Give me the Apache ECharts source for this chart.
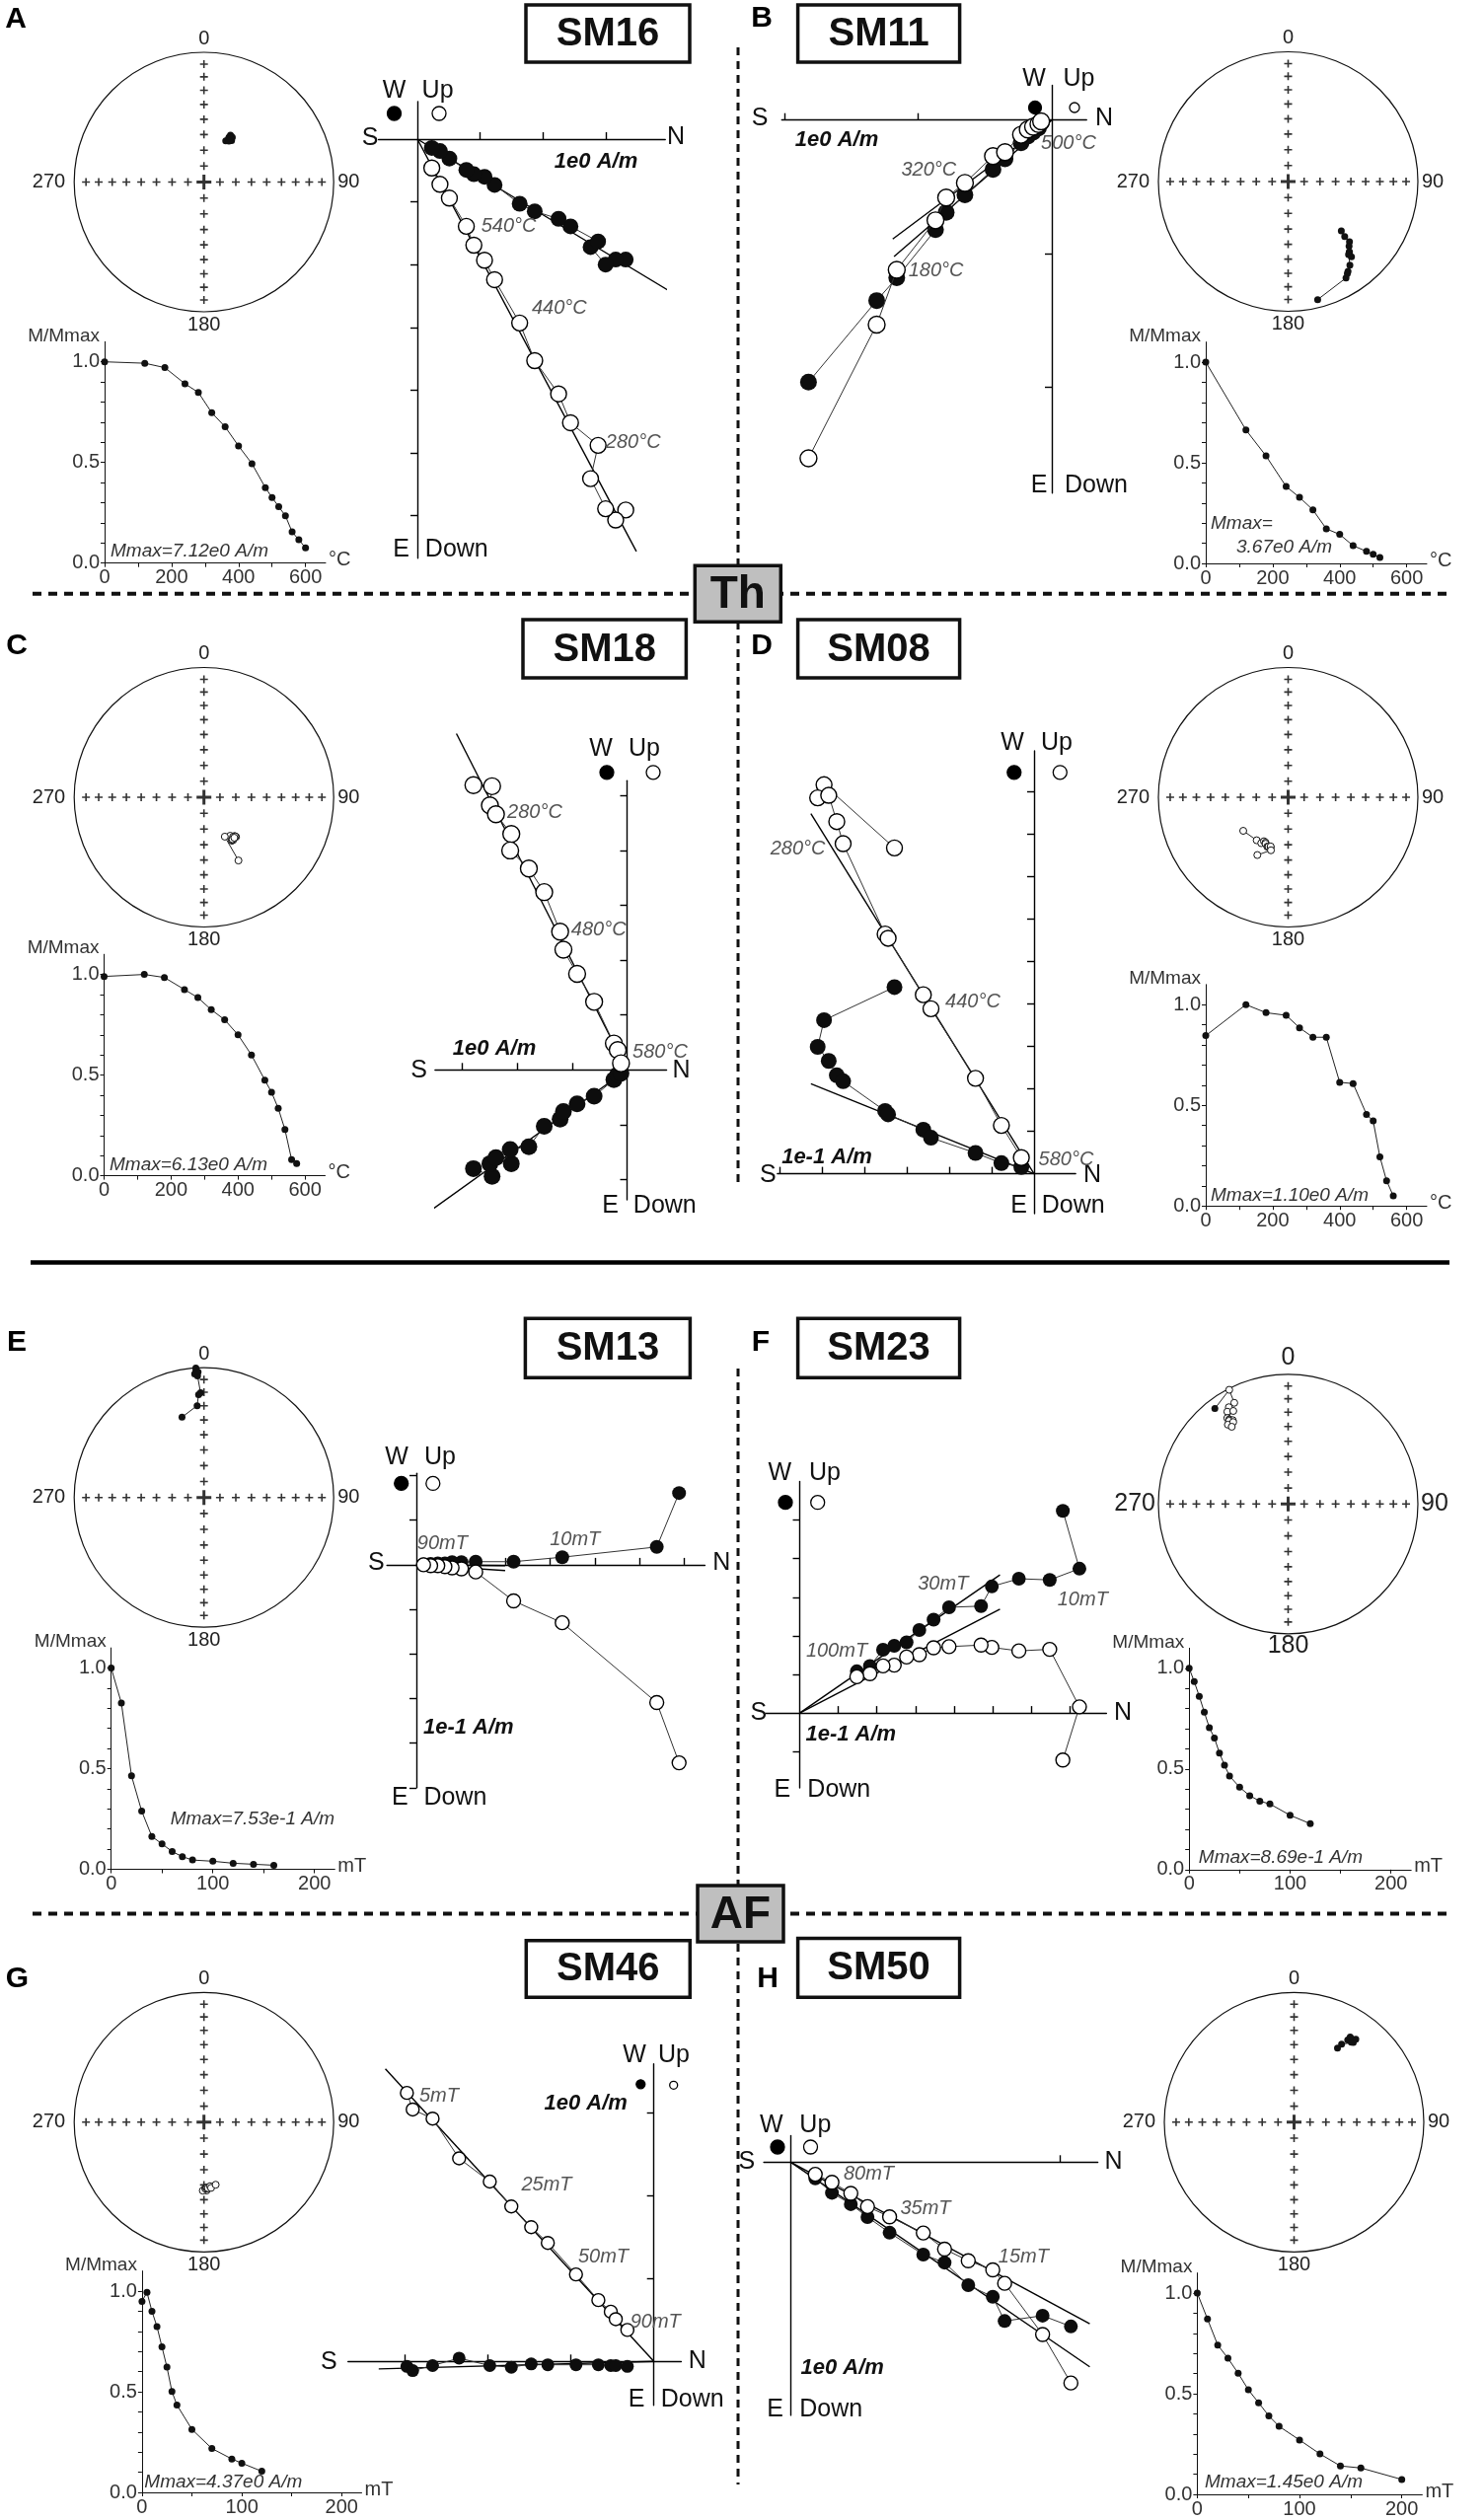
<!DOCTYPE html>
<html>
<head>
<meta charset="utf-8">
<title>Demagnetization diagrams</title>
<script src="https://cdn.jsdelivr.net/npm/echarts@6/dist/echarts.min.js"></script>
<style>
  html, body { margin: 0; padding: 0; background: #fff; }
  #main { width: 1504px; height: 2554px; }
</style>
</head>
<body>
<div id="main"></div>
<script>
// demag steps (°C or mT) and M/Mmax
const sm16Steps = [0, 120, 180, 240, 280, 320, 360, 400, 440, 480, 500, 520, 540, 560, 580, 600];
const sm16Mag = [1.0, 0.993, 0.971, 0.891, 0.848, 0.747, 0.677, 0.582, 0.494, 0.375, 0.326, 0.28, 0.235, 0.155, 0.116, 0.076];
const sm11Steps = [0, 120, 180, 240, 280, 320, 360, 400, 440, 480, 500, 520];
const sm11Mag = [1.0, 0.663, 0.534, 0.382, 0.328, 0.266, 0.172, 0.144, 0.088, 0.06, 0.045, 0.03];
const sm18Steps = [0, 120, 180, 240, 280, 320, 360, 400, 440, 480, 500, 520, 540, 560, 575];
const sm18Mag = [0.99, 1.0, 0.985, 0.925, 0.885, 0.825, 0.775, 0.70, 0.60, 0.475, 0.415, 0.335, 0.23, 0.08, 0.06];
const sm08Steps = [0, 120, 180, 240, 280, 320, 360, 400, 440, 480, 500, 520, 540, 560];
const sm08Mag = [0.846, 1.0, 0.96, 0.947, 0.885, 0.838, 0.838, 0.614, 0.608, 0.455, 0.422, 0.244, 0.125, 0.05];
const sm13Steps = [0, 10, 20, 30, 40, 50, 60, 70, 80, 100, 120, 140, 160];
const sm13Mag = [1.0, 0.826, 0.464, 0.289, 0.163, 0.126, 0.088, 0.063, 0.046, 0.04, 0.03, 0.025, 0.02];
const sm23Steps = [0, 5, 10, 15, 20, 25, 30, 35, 40, 50, 60, 70, 80, 100, 120];
const sm23Mag = [1.0, 0.934, 0.861, 0.782, 0.705, 0.654, 0.579, 0.519, 0.465, 0.409, 0.367, 0.34, 0.326, 0.27, 0.228];
const sm46Steps = [0, 5, 10, 15, 20, 25, 30, 35, 50, 70, 90, 100, 120];
const sm46Mag = [0.949, 0.994, 0.899, 0.824, 0.723, 0.622, 0.501, 0.434, 0.313, 0.218, 0.166, 0.145, 0.105];
const sm50Steps = [0, 10, 20, 30, 40, 50, 60, 70, 80, 100, 120, 140, 160, 200];
const sm50Mag = [1.0, 0.871, 0.742, 0.676, 0.602, 0.519, 0.455, 0.39, 0.338, 0.27, 0.201, 0.141, 0.131, 0.074];

// orthogonal vector components: N (x), W (horizontal plane, filled), Up (vertical plane, open)
const sm16N = [3.32, 3.16, 3.00, 2.76, 2.88, 2.44, 2.25, 1.87, 1.63, 1.23, 1.07, 0.90, 0.78, 0.51, 0.36, 0.23];
const sm16W = [-1.92, -1.92, -2.00, -1.72, -1.63, -1.39, -1.27, -1.15, -1.03, -0.73, -0.60, -0.56, -0.49, -0.31, -0.19, -0.14];
const sm16Up = [-5.91, -6.07, -5.89, -5.41, -4.88, -4.52, -4.06, -3.53, -2.93, -2.24, -1.93, -1.69, -1.39, -0.94, -0.72, -0.46];
const sm16Fit = [[4.81, -2.90], [3.49, -6.57]];

const sm11N = [-1.82, -1.31, -1.16, -0.87, -0.79, -0.65, -0.44, -0.35, -0.23, -0.18, -0.14, -0.10, -0.08];
const sm11W = [-1.96, -1.35, -1.18, -0.82, -0.69, -0.56, -0.37, -0.29, -0.17, -0.12, -0.09, -0.06, -0.02];
const sm11Up = [-2.53, -1.53, -1.12, -0.75, -0.58, -0.47, -0.27, -0.24, -0.11, -0.07, -0.05, -0.03, -0.01];
const sm11Fit = [[-1.19, -0.89], [-1.18, -1.02]];

const sm18N = [-2.80, -2.46, -2.50, -2.39, -2.11, -2.13, -1.79, -1.51, -1.22, -1.16, -0.91, -0.60, -0.24, -0.17, -0.11];
const sm18W = [-1.80, -1.94, -1.71, -1.60, -1.71, -1.45, -1.40, -1.03, -0.90, -0.76, -0.62, -0.48, -0.18, -0.09, -0.06];
const sm18Up = [5.19, 5.17, 4.82, 4.66, 4.30, 4.00, 3.67, 3.24, 2.52, 2.19, 1.75, 1.24, 0.48, 0.36, 0.12];
const sm18Fit = [[-3.11, 6.13], [-3.67, -2.63]];

const sm08N = [-3.29, -4.95, -5.10, -4.84, -4.65, -4.50, -3.51, -3.44, -2.61, -2.43, -1.38, -0.77, -0.30];
const sm08W = [4.40, 3.62, 2.99, 2.66, 2.32, 2.18, 1.48, 1.40, 1.04, 0.85, 0.49, 0.25, 0.16];
const sm08Up = [7.68, 9.17, 8.86, 8.92, 8.30, 7.78, 5.65, 5.55, 4.22, 3.89, 2.25, 1.14, 0.38];
const sm08Fit = [[-5.26, 8.49], [-5.26, 2.12]];

const sm13N = [5.89, 5.39, 3.27, 2.18, 1.33, 1.01, 0.80, 0.64, 0.48, 0.32, 0.16];
const sm13W = [1.61, 0.40, 0.17, 0.07, 0.07, 0.06, 0.06, 0.03, 0.03, 0.02, 0.01];
const sm13Up = [-4.44, -3.09, -1.30, -0.81, -0.16, -0.09, -0.07, -0.04, -0.02, -0.02, 0];
const sm13Fit = [[1.99, -0.02], [1.99, -0.13]];

const sm23N = [6.82, 7.25, 6.48, 5.68, 4.98, 4.70, 3.87, 3.47, 3.10, 2.77, 2.45, 2.16, 1.82, 1.48];
const sm23W = [5.24, 3.74, 3.45, 3.48, 3.28, 2.77, 2.74, 2.42, 2.15, 1.83, 1.74, 1.64, 1.22, 1.08];
const sm23Up = [-1.22, 0.16, 1.65, 1.61, 1.70, 1.76, 1.72, 1.69, 1.51, 1.45, 1.24, 1.22, 1.02, 0.94];
const sm23Fit = [[5.19, 3.58], [5.19, 2.69]];

const sm46N = [-2.98, -2.91, -2.67, -2.35, -1.98, -1.72, -1.48, -1.28, -0.94, -0.67, -0.52, -0.46, -0.32];
const sm46W = [-0.06, -0.11, -0.05, 0.04, -0.05, -0.07, -0.03, -0.04, -0.04, -0.04, -0.05, -0.05, -0.06];
const sm46Up = [3.24, 3.04, 2.93, 2.45, 2.17, 1.87, 1.62, 1.43, 1.05, 0.74, 0.60, 0.51, 0.38];
const sm46Fit = [[-3.24, 3.53], [-3.32, -0.09]];

const sm50N = [1.04, 0.935, 0.794, 0.75, 0.659, 0.571, 0.492, 0.367, 0.285, 0.223, 0.153, 0.091];
const sm50W = [-0.61, -0.57, -0.59, -0.50, -0.457, -0.373, -0.343, -0.262, -0.204, -0.156, -0.114, -0.06];
const sm50Up = [-0.82, -0.64, -0.45, -0.40, -0.366, -0.323, -0.263, -0.203, -0.165, -0.116, -0.075, -0.045];
const sm50Fit = [[1.11, -0.60], [1.11, -0.76]];

// axis ticks
const thTicks = [0, 100, 200, 300, 400, 500, 600];
const thLabels = [0, 200, 400, 600];
const afTicks = [0, 50, 100, 150, 200];
const afLabels = [0, 100, 200];
const magTicks = [0, 0.1, 0.2, 0.3, 0.4, 0.5, 0.6, 0.7, 0.8, 0.9, 1.0];
const magLabels = [0, 0.5, 1.0];
const netTickInc = [80, 70, 60, 50, 40, 30, 20, 10]; // inclination rings on the net cross

const FONT = '"Liberation Sans", Arial, Helvetica, sans-serif';
const INK = '#111';
const PLUS = 'path://M0,4L10,4L10,6L0,6Z M4,0L6,0L6,10L4,10Z';

// layout of every panel (pixels)
const panels = [
  { name: 'SM16', letter: 'A', lp: [16, 20], box: [533, 5, 166, 58],
    steps: sm16Steps, mag: sm16Mag, n: sm16N, w: sm16W, up: sm16Up, fit: sm16Fit,
    net: { cx: 206.7, cy: 184.5, r: 131.5, fs: 20 },
    dm: { left: 106, bottom: 570.7, width: 224, th: true, mmax: [['Mmax=7.12e0 A/m', 112, 559]] },
    zj: { ox: 423, oy: 141, u: 63.6, xr: [-0.62, 3.95], yr: [-6.68, 0.6], xt: [1, 2, 3], yt: [-1, -2, -3, -4, -5, -6], s: 16,
      lab: [['S', 375, 140], ['N', 685, 139], ['W', 399.5, 92], ['Up', 443.6, 92], ['E', 406.7, 557], ['Down', 462.8, 557],
        ['1e0 A/m', 604, 164, 'sc'], ['540°C', 515.6, 229, 'st'], ['440°C', 566.9, 312, 'st'], ['280°C', 641.7, 448, 'st']],
      dots: [[399.5, 115, 7, 1], [445, 115, 7, 0]] } },
  { name: 'SM11', letter: 'B', lp: [772, 19], box: [808.6, 5, 164, 58],
    steps: sm11Steps, mag: sm11Mag, n: sm11N, w: sm11W, up: sm11Up, fit: sm11Fit,
    net: { cx: 1305.5, cy: 184, r: 131.5, fs: 20 },
    dm: { left: 1222, bottom: 571, width: 224, th: true, mmax: [['Mmax=', 1227, 531], ['3.67e0 A/m', 1253, 555]] },
    zj: { ox: 1066, oy: 121.7, u: 135.5, xr: [-2.02, 0.26], yr: [-2.79, 0.26], xt: [-1, -2], yt: [-1, -2], s: 17,
      lab: [['S', 770, 120.5], ['N', 1119, 120.5], ['W', 1048, 80], ['Up', 1093.5, 80], ['E', 1053, 492], ['Down', 1111, 492],
        ['1e0 A/m', 848, 142, 'sc'], ['500°C', 1083, 145.4, 'st'], ['320°C', 941.4, 172.2, 'st'], ['180°C', 948.6, 274.8, 'st']],
      dots: [[1049, 109, 6.5, 1], [1089, 109, 5, 0]] } },
  { name: 'SM18', letter: 'C', lp: [17, 655], box: [530, 628, 165.4, 59],
    steps: sm18Steps, mag: sm18Mag, n: sm18N, w: sm18W, up: sm18Up, fit: sm18Fit,
    net: { cx: 206.7, cy: 808, r: 131.5, fs: 20 },
    dm: { left: 105.5, bottom: 1191.6, width: 224, th: true, mmax: [['Mmax=6.13e0 A/m', 111, 1181]] },
    zj: { ox: 635.5, oy: 1084.3, u: 55.6, xr: [-3.5, 0.72], yr: [-2.37, 5.27], xt: [-1, -2, -3], yt: [5, 4, 3, 2, 1, -1, -2], s: 17,
      lab: [['S', 424.5, 1085.5], ['N', 690.6, 1085.5], ['W', 609, 759], ['Up', 653, 759], ['E', 618.7, 1222], ['Down', 673.8, 1222],
        ['1e0 A/m', 501, 1063, 'sc'], ['280°C', 542, 823.6, 'st'], ['480°C', 606.7, 942.7, 'st'], ['580°C', 669, 1066, 'st']],
      dots: [[615, 782.8, 7, 1], [662, 782.8, 7, 0]] } },
  { name: 'SM08', letter: 'D', lp: [772, 655], box: [808.6, 628, 164, 59],
    steps: sm08Steps, mag: sm08Mag, n: sm08N, w: sm08W, up: sm08Up, fit: sm08Fit,
    net: { cx: 1305.5, cy: 808, r: 131.5, fs: 20 },
    dm: { left: 1222, bottom: 1222.2, width: 224, th: true, mmax: [['Mmax=1.10e0 A/m', 1227, 1212]] },
    zj: { ox: 1048, oy: 1189.6, u: 43, xr: [-6.05, 0.98], yr: [-0.94, 9.97], xt: [-1, -2, -3, -4, -5, -6], yt: [1, 2, 3, 4, 5, 6, 7, 8, 9], s: 16,
      lab: [['S', 778.4, 1191.6], ['N', 1107, 1191.6], ['W', 1026, 753], ['Up', 1071, 753], ['E', 1032.6, 1222], ['Down', 1087.7, 1222],
        ['1e-1 A/m', 838, 1173, 'sc'], ['280°C', 808.6, 860, 'st'], ['440°C', 986, 1015, 'st'], ['580°C', 1080.5, 1175, 'st']],
      dots: [[1027.8, 782.8, 7, 1], [1074.3, 782.8, 7, 0]] } },
  { name: 'SM13', letter: 'E', lp: [17, 1360.5], box: [532.4, 1336.3, 167, 60],
    steps: sm13Steps, mag: sm13Mag, n: sm13N, w: sm13W, up: sm13Up, fit: sm13Fit,
    net: { cx: 206.7, cy: 1517.7, r: 131.5, fs: 20 },
    dm: { left: 112.7, bottom: 1894.5, width: 226.6, th: false, mmax: [['Mmax=7.53e-1 A/m', 172.7, 1843.5]] },
    zj: { ox: 422, oy: 1585.9, u: 45.2, xr: [-0.66, 6.47], yr: [-5.0, 2.05], xt: [1, 2, 3, 4, 5, 6], yt: [2, 1, -1, -2, -3, -4, -5], s: 14,
      lab: [['S', 381.3, 1584.6], ['N', 731.4, 1584.6], ['W', 402, 1477.3], ['Up', 446, 1477.3], ['E', 405.3, 1822.4], ['Down', 461.4, 1822.4],
        ['1e-1 A/m', 474.8, 1750.9, 'sc'], ['90mT', 448.4, 1564.8, 'st'], ['10mT', 582.7, 1560.6, 'st']],
      dots: [[406.7, 1503.4, 7, 1], [438.8, 1503.4, 7, 0]] } },
  { name: 'SM23', letter: 'F', lp: [771, 1360.5], box: [808.6, 1336.3, 164, 60],
    steps: sm23Steps, mag: sm23Mag, n: sm23N, w: sm23W, up: sm23Up, fit: sm23Fit,
    net: { cx: 1305.5, cy: 1524.3, r: 131.5, fs: 25 },
    dm: { left: 1205.2, bottom: 1894.8, width: 225, th: false, mmax: [['Mmax=8.69e-1 A/m', 1214.8, 1883]] },
    zj: { ox: 810.5, oy: 1736.1, u: 39.1, xr: [-0.88, 7.95], yr: [-1.94, 6.0], xt: [1, 2, 3, 4, 5, 6, 7], yt: [1, 2, 3, 4, 5, -1], s: 14,
      lab: [['S', 768.8, 1736], ['N', 1138, 1736], ['W', 790.4, 1493.3], ['Up', 836, 1493.3], ['E', 792.8, 1814], ['Down', 850.3, 1814],
        ['1e-1 A/m', 862.3, 1758.4, 'sc'], ['30mT', 955.8, 1605.7, 'st'], ['10mT', 1097.3, 1621.2, 'st'], ['100mT', 848, 1673, 'st']],
      dots: [[796, 1522.7, 7, 1], [828.7, 1522.7, 7, 0]] } },
  { name: 'SM46', letter: 'G', lp: [17.5, 2005.4], box: [533.3, 1966.7, 166, 57.5],
    steps: sm46Steps, mag: sm46Mag, n: sm46N, w: sm46W, up: sm46Up, fit: sm46Fit,
    net: { cx: 206.7, cy: 2150.8, r: 131.5, fs: 20 },
    dm: { left: 143.9, bottom: 2526, width: 222.6, th: false, mmax: [['Mmax=4.37e0 A/m', 146.3, 2516]] },
    zj: { ox: 662.7, oy: 2393.3, u: 84, xr: [-3.69, 0.33], yr: [-0.53, 3.59], xt: [-1, -2, -3], yt: [1, 2, 3], s: 13,
      lab: [['S', 333.3, 2394.6], ['N', 706.7, 2393.3], ['W', 643, 2083], ['Up', 683, 2083], ['E', 645, 2431.7], ['Down', 701.7, 2431.7],
        ['1e0 A/m', 593.7, 2131.8, 'sc'], ['5mT', 445, 2124.4, 'st'], ['25mT', 554, 2214, 'st'], ['50mT', 611.5, 2287, 'st'], ['90mT', 664.2, 2353.6, 'st']],
      dots: [[649.3, 2112.3, 4.5, 1], [682.7, 2113.3, 4, 0]] } },
  { name: 'SM50', letter: 'H', lp: [778, 2006], box: [808.6, 1964.6, 164, 59.6],
    steps: sm50Steps, mag: sm50Mag, n: sm50N, w: sm50W, up: sm50Up, fit: sm50Fit,
    net: { cx: 1311.5, cy: 2150.8, r: 131.5, fs: 20 },
    dm: { left: 1213.4, bottom: 2528, width: 228, th: false, mmax: [['Mmax=1.45e0 A/m', 1221, 2516]] },
    zj: { ox: 801.4, oy: 2191.3, u: 273, xr: [-0.1, 1.14], yr: [-0.94, 0.098], xt: [1], yt: [], s: 14,
      lab: [['S', 756.8, 2191.3], ['N', 1128.5, 2191.3], ['W', 781.7, 2154.4], ['Up', 826.3, 2154.4], ['E', 785.6, 2441.9], ['Down', 842.2, 2441.9],
        ['1e0 A/m', 853.7, 2399.6, 'sc'], ['80mT', 880.5, 2203.7, 'st'], ['35mT', 938, 2238.6, 'st'], ['15mT', 1037.4, 2287.8, 'st']],
      dots: [[788, 2176, 7, 1], [821.5, 2176, 7, 0]] } }
];

const grids = [], xAxes = [], yAxes = [], series = [], graphics = [];

function addText(str, x, y, o) {
  o = o || {};
  const align = o.align || 'center';
  graphics.push({
    type: 'text', x: x, y: y, z: o.z || 60, silent: true,
    style: {
      text: str, fill: o.color || INK, fontFamily: FONT,
      fontSize: o.size || 20, fontWeight: o.weight || 'normal', fontStyle: o.italic ? 'italic' : 'normal',
      align: align, verticalAlign: 'middle', textAlign: align, textVerticalAlign: 'middle'
    }
  });
}

// equal-area stereonet
function addNet(p) {
  const st = p.net;
  const gi = grids.length;
  grids.push({ left: st.cx - st.r, top: st.cy - st.r, width: 2 * st.r, height: 2 * st.r });
  xAxes.push({ gridIndex: gi, type: 'value', min: -1, max: 1, show: false });
  yAxes.push({ gridIndex: gi, type: 'value', min: -1, max: 1, show: false });
  const marks = [];
  netTickInc.forEach(function (inc) {
    const r = Math.SQRT2 * Math.sin((90 - inc) * Math.PI / 360);
    marks.push([0, r], [0, -r], [r, 0], [-r, 0]);
  });
  series.push({ type: 'scatter', xAxisIndex: gi, yAxisIndex: gi, symbol: PLUS, symbolSize: 8, silent: true,
    itemStyle: { color: '#000' }, data: marks, z: 2 });
  series.push({ type: 'scatter', xAxisIndex: gi, yAxisIndex: gi, symbol: PLUS, symbolSize: 15, silent: true,
    itemStyle: { color: '#000' }, data: [[0, 0]], z: 2 });
  // directions from the vector components
  const pts = p.n.map(function (n, i) {
    const e = -p.w[i], d = -p.up[i];
    const dec = Math.atan2(e, n), inc = Math.atan2(d, Math.hypot(n, e));
    const r = Math.SQRT2 * Math.sin((Math.PI / 2 - Math.abs(inc)) / 2);
    return { value: [r * Math.sin(dec), r * Math.cos(dec)],
      itemStyle: inc >= 0 ? { color: '#111' } : { color: '#fff', borderColor: '#111', borderWidth: 1 } };
  });
  series.push({ type: 'line', xAxisIndex: gi, yAxisIndex: gi, data: pts, symbol: 'circle', symbolSize: 7,
    showAllSymbol: true, lineStyle: { color: '#222', width: 1 }, z: 5, clip: false });
  graphics.push({ type: 'circle', z: 1, silent: true, shape: { cx: st.cx, cy: st.cy, r: st.r },
    style: { fill: 'none', stroke: INK, lineWidth: 1.2 } });
  const big = st.fs > 22;
  addText('0', st.cx, st.cy - st.r - (big ? 17 : 14), { size: st.fs, color: '#222' });
  addText('180', st.cx, st.cy + st.r + (big ? 12 : 13), { size: st.fs, color: '#222' });
  addText('270', st.cx - st.r - (big ? 3 : 9), st.cy, { size: st.fs, color: '#222', align: 'right' });
  addText('90', st.cx + st.r + (big ? 3 : 4), st.cy, { size: st.fs, color: '#222', align: 'left' });
}

// intensity decay curve
function addDemag(p) {
  const dm = p.dm;
  const h1 = 204;
  const gi = grids.length;
  const top = dm.bottom - 1.1 * h1;
  grids.push({ left: dm.left, top: top, width: dm.width, height: 1.1 * h1 });
  xAxes.push({ gridIndex: gi, type: 'value', min: 0, max: dm.th ? 660 : 220,
    axisLine: { onZero: false, lineStyle: { color: INK, width: 1 } },
    axisTick: { customValues: dm.th ? thTicks : afTicks, length: 4, lineStyle: { color: INK } },
    axisLabel: { customValues: dm.th ? thLabels : afLabels, fontSize: 20, color: '#333', margin: 5, fontFamily: FONT },
    splitLine: { show: false } });
  yAxes.push({ gridIndex: gi, type: 'value', min: 0, max: 1.1,
    axisLine: { onZero: false, lineStyle: { color: INK, width: 1 } },
    axisTick: { customValues: magTicks, length: 4, lineStyle: { color: INK } },
    axisLabel: { customValues: magLabels, fontSize: 20, color: '#333', margin: 5, fontFamily: FONT,
      formatter: function (v) { return v.toFixed(1); } },
    splitLine: { show: false } });
  series.push({ type: 'line', xAxisIndex: gi, yAxisIndex: gi,
    data: p.steps.map(function (s, i) { return [s, p.mag[i]]; }),
    symbol: 'circle', symbolSize: 7, showAllSymbol: true, itemStyle: { color: '#111' },
    lineStyle: { color: '#222', width: 1 }, z: 4, clip: false });
  addText('M/Mmax', dm.left - 5, top - 6, { size: 19, color: '#333', align: 'right' });
  addText(dm.th ? '°C' : 'mT', dm.left + dm.width + 3, dm.bottom - 3, { size: 20, color: '#333', align: 'left' });
  dm.mmax.forEach(function (m) {
    addText(m[0], m[1], m[2], { size: 19, color: '#333', italic: true, align: 'left' });
  });
}

// orthogonal (Zijderveld) projection
function addZij(p) {
  const z = p.zj;
  const gi = grids.length;
  grids.push({ left: z.ox + z.xr[0] * z.u, top: z.oy - z.yr[1] * z.u,
    width: (z.xr[1] - z.xr[0]) * z.u, height: (z.yr[1] - z.yr[0]) * z.u });
  xAxes.push({ gridIndex: gi, type: 'value', min: z.xr[0], max: z.xr[1],
    axisLine: { onZero: true, lineStyle: { color: '#000', width: 1.4 } },
    axisTick: { customValues: z.xt, inside: true, length: 7, lineStyle: { color: '#000', width: 1.4 } },
    axisLabel: { show: false }, splitLine: { show: false } });
  yAxes.push({ gridIndex: gi, type: 'value', min: z.yr[0], max: z.yr[1],
    axisLine: { onZero: true, lineStyle: { color: '#000', width: 1.4 } },
    axisTick: { customValues: z.yt, length: 7, lineStyle: { color: '#000', width: 1.4 } },
    axisLabel: { show: false }, splitLine: { show: false } });
  p.fit.forEach(function (f) {
    series.push({ type: 'line', xAxisIndex: gi, yAxisIndex: gi, data: [[0, 0], f], symbol: 'none',
      lineStyle: { color: '#000', width: 1.4 }, z: 3, clip: false, silent: true });
  });
  series.push({ type: 'line', xAxisIndex: gi, yAxisIndex: gi,
    data: p.n.map(function (v, i) { return [v, p.w[i]]; }),
    symbol: 'circle', symbolSize: z.s, showAllSymbol: true, itemStyle: { color: '#0d0d0d' },
    lineStyle: { color: '#333', width: 1 }, z: 4, clip: false });
  series.push({ type: 'line', xAxisIndex: gi, yAxisIndex: gi,
    data: p.n.map(function (v, i) { return [v, p.up[i]]; }),
    symbol: 'circle', symbolSize: z.s, showAllSymbol: true,
    itemStyle: { color: '#fff', borderColor: '#000', borderWidth: 1.4 },
    lineStyle: { color: '#333', width: 1 }, z: 5, clip: false });
  z.lab.forEach(function (l) {
    if (l[3] === 'sc') addText(l[0], l[1], l[2], { size: 22, weight: 'bold', italic: true, color: '#111' });
    else if (l[3] === 'st') addText(l[0], l[1], l[2], { size: 20, italic: true, color: '#555' });
    else addText(l[0], l[1], l[2], { size: 25, color: '#111' });
  });
  z.dots.forEach(function (d) {
    graphics.push({ type: 'circle', z: 55, silent: true, shape: { cx: d[0], cy: d[1], r: d[2] },
      style: { fill: d[3] ? '#000' : '#fff', stroke: '#000', lineWidth: 1.3 } });
  });
}

panels.forEach(function (p) {
  addNet(p);
  addDemag(p);
  addZij(p);
  addText(p.letter, p.lp[0], p.lp[1], { size: 30, weight: 'bold', color: '#000' });
  graphics.push({ type: 'rect', z: 20, silent: true,
    shape: { x: p.box[0], y: p.box[1], width: p.box[2], height: p.box[3] },
    style: { fill: '#fff', stroke: '#111', lineWidth: 3.5 } });
  addText(p.name, p.box[0] + p.box[2] / 2, p.box[1] + p.box[3] / 2 + 1, { size: 40, weight: 'bold', color: '#111', z: 21 });
});

// separators
function dashH(y) {
  graphics.push({ type: 'line', z: 10, silent: true, shape: { x1: 33, y1: y, x2: 1470, y2: y },
    style: { stroke: '#111', lineWidth: 4, lineDash: [9, 7] } });
}
function dashV(y1, y2) {
  graphics.push({ type: 'line', z: 10, silent: true, shape: { x1: 748, y1: y1, x2: 748, y2: y2 },
    style: { stroke: '#111', lineWidth: 3, lineDash: [8, 6] } });
}
dashH(601.7);
dashH(1939.6);
dashV(48, 573);
dashV(630, 1198);
dashV(1387, 1911);
dashV(1970, 2518);
graphics.push({ type: 'line', z: 10, silent: true, shape: { x1: 31, y1: 1279.5, x2: 1469, y2: 1279.5 },
  style: { stroke: '#000', lineWidth: 4.5 } });
[['Th', 704.3, 573.3], ['AF', 707, 1911]].forEach(function (b) {
  graphics.push({ type: 'rect', z: 20, silent: true, shape: { x: b[1], y: b[2], width: 87, height: 57 },
    style: { fill: '#bfbfbf', stroke: '#111', lineWidth: 3.5 } });
  addText(b[0], b[1] + 43.5, b[2] + 30, { size: 46, weight: 'bold', color: '#111', z: 21 });
});

const chart = echarts.init(document.getElementById('main'), null, { renderer: 'canvas' });
chart.setOption({
  backgroundColor: '#fff',
  animation: false,
  grid: grids,
  xAxis: xAxes,
  yAxis: yAxes,
  series: series,
  graphic: { elements: graphics }
});
</script>
</body>
</html>
